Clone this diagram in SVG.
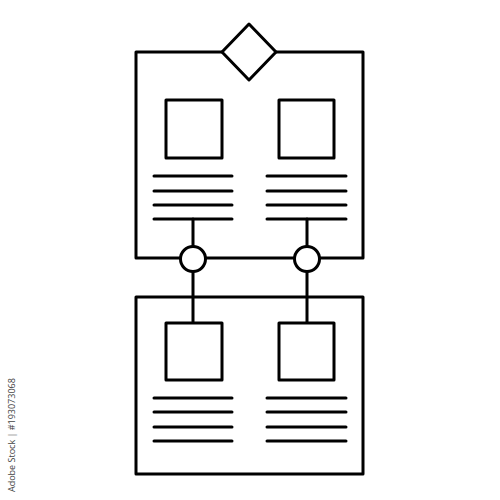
<svg xmlns="http://www.w3.org/2000/svg" width="500" height="500" viewBox="0 0 500 500">
<style>
.s{fill:#fff;stroke:#000;stroke-width:3;stroke-linejoin:round}
.l{stroke:#000;stroke-width:3;stroke-linecap:round;fill:none}
.w{font-family:"Open Sans","Liberation Sans",sans-serif;font-size:9px;fill:#444}
</style>
<rect width="500" height="500" fill="#fff"/>
<g id="connectors">
<line class="l" x1="193" y1="219" x2="193" y2="323"/>
<line class="l" x1="307" y1="219" x2="307" y2="323"/>
</g>
<g id="top-panel">
<rect class="s" x="136" y="52" width="227" height="206" fill="none" style="fill:none"/>
<rect class="s" x="166" y="100" width="56" height="58"/>
<rect class="s" x="279" y="100" width="55" height="58"/>
<line class="l" x1="154" y1="176" x2="232" y2="176"/>
<line class="l" x1="154" y1="191" x2="232" y2="191"/>
<line class="l" x1="154" y1="205" x2="232" y2="205"/>
<line class="l" x1="154" y1="219" x2="232" y2="219"/>
<line class="l" x1="267" y1="176" x2="346" y2="176"/>
<line class="l" x1="267" y1="191" x2="346" y2="191"/>
<line class="l" x1="267" y1="205" x2="346" y2="205"/>
<line class="l" x1="267" y1="219" x2="346" y2="219"/>
</g>
<g id="diamond">
<polygon class="s" points="249,24 276,52 249,80 222,52"/>
</g>
<g id="bottom-panel">
<rect class="s" x="136" y="297" width="227" height="177" style="fill:none"/>
<rect class="s" x="166" y="323" width="56" height="57"/>
<rect class="s" x="279" y="323" width="55" height="57"/>
<line class="l" x1="154" y1="398" x2="232" y2="398"/>
<line class="l" x1="154" y1="412" x2="232" y2="412"/>
<line class="l" x1="154" y1="427" x2="232" y2="427"/>
<line class="l" x1="154" y1="441" x2="232" y2="441"/>
<line class="l" x1="267" y1="398" x2="346" y2="398"/>
<line class="l" x1="267" y1="412" x2="346" y2="412"/>
<line class="l" x1="267" y1="427" x2="346" y2="427"/>
<line class="l" x1="267" y1="441" x2="346" y2="441"/>
</g>
<g id="node-left">
<circle class="s" cx="193" cy="259" r="12.5"/>
</g>
<g id="node-right">
<circle class="s" cx="307" cy="259" r="12.5"/>
</g>
<text class="w" transform="translate(15,492) rotate(-90)">Adobe Stock | #193073068</text>
</svg>
